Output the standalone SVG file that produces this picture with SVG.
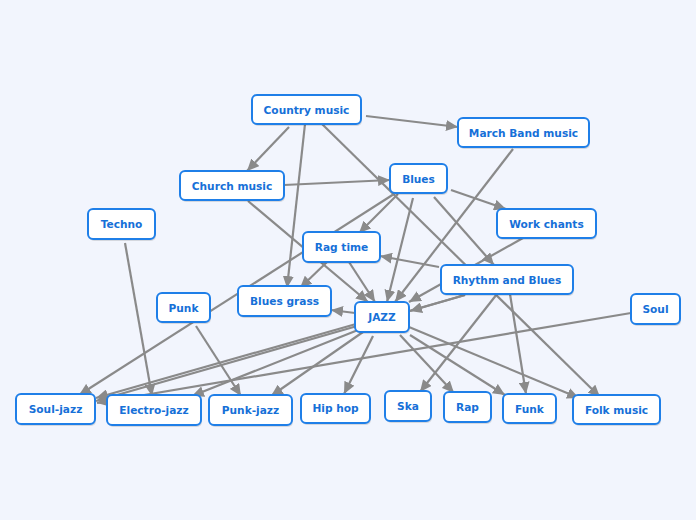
<svg xmlns="http://www.w3.org/2000/svg" width="696" height="520" viewBox="0 0 696 520">
<defs>
<marker id="ah" markerUnits="userSpaceOnUse" markerWidth="13" markerHeight="11" refX="12" refY="5.5" orient="auto">
<path d="M0,0 L12,5.5 L0,11 z" fill="#8a8a8a"/>
</marker>
<style>
.e{stroke:#8a8a8a;stroke-width:2.2;fill:none;marker-end:url(#ah)}
.b{fill:#ffffff;stroke:#1f7fe8;stroke-width:2}
.s{fill:#000;opacity:0.12}
.t{font-family:"DejaVu Sans",Verdana,sans-serif;font-weight:bold;font-size:10.6px;fill:#1670d8;text-anchor:middle}
</style>
</defs>
<rect x="0" y="0" width="696" height="520" fill="#f2f5fd"/>
<g id="connectors">
<line class="e" x1="366" y1="116" x2="458" y2="127"/>
<line class="e" x1="289" y1="127" x2="247" y2="171"/>
<line class="e" x1="305" y1="124" x2="287" y2="288"/>
<line class="e" x1="322" y1="124" x2="600" y2="397"/>
<line class="e" x1="284" y1="185" x2="390" y2="180"/>
<line class="e" x1="248" y1="201" x2="368" y2="302"/>
<line class="e" x1="451" y1="190" x2="506" y2="209"/>
<line class="e" x1="398" y1="194" x2="359" y2="233"/>
<line class="e" x1="413" y1="198" x2="387" y2="302"/>
<line class="e" x1="434" y1="197" x2="494" y2="265"/>
<line class="e" x1="394" y1="194" x2="79" y2="395"/>
<line class="e" x1="513" y1="149" x2="395" y2="302"/>
<line class="e" x1="523" y1="238" x2="409" y2="302"/>
<line class="e" x1="349" y1="262" x2="375" y2="302"/>
<line class="e" x1="327" y1="262" x2="300" y2="288"/>
<line class="e" x1="439" y1="267" x2="380" y2="256"/>
<line class="e" x1="465" y1="295" x2="410" y2="311"/>
<line class="e" x1="465" y1="295" x2="96" y2="401"/>
<line class="e" x1="497" y1="294" x2="420" y2="392"/>
<line class="e" x1="510" y1="294" x2="526" y2="394"/>
<line class="e" x1="355" y1="313" x2="331" y2="310"/>
<line class="e" x1="356" y1="324" x2="96" y2="398"/>
<line class="e" x1="358" y1="330" x2="192" y2="396"/>
<line class="e" x1="363" y1="332" x2="271" y2="396"/>
<line class="e" x1="373" y1="336" x2="344" y2="394"/>
<line class="e" x1="400" y1="335" x2="454" y2="393"/>
<line class="e" x1="410" y1="335" x2="505" y2="395"/>
<line class="e" x1="409" y1="327" x2="579" y2="398"/>
<line class="e" x1="125" y1="243" x2="152" y2="396"/>
<line class="e" x1="196" y1="326" x2="241" y2="396"/>
<line class="e" x1="631" y1="313" x2="97" y2="403"/>
</g>
<g id="country"><rect class="s" x="253" y="97" width="109" height="29" rx="5"/><rect class="b" x="252" y="95" width="109" height="29" rx="5"/><text class="t" x="306.5" y="113.5">Country music</text></g>
<g id="march"><rect class="s" x="459" y="120" width="131" height="29" rx="5"/><rect class="b" x="458" y="118" width="131" height="29" rx="5"/><text class="t" x="523.5" y="136.5">March Band music</text></g>
<g id="church"><rect class="s" x="181" y="173" width="104" height="29" rx="5"/><rect class="b" x="180" y="171" width="104" height="29" rx="5"/><text class="t" x="232" y="189.5">Church music</text></g>
<g id="blues"><rect class="s" x="391" y="166" width="57" height="29" rx="5"/><rect class="b" x="390" y="164" width="57" height="29" rx="5"/><text class="t" x="418.5" y="182.5">Blues</text></g>
<g id="workchants"><rect class="s" x="498" y="211" width="99" height="29" rx="5"/><rect class="b" x="497" y="209" width="99" height="29" rx="5"/><text class="t" x="546.5" y="227.5">Work chants</text></g>
<g id="techno"><rect class="s" x="89" y="211" width="67" height="30" rx="5"/><rect class="b" x="88" y="209" width="67" height="30" rx="5"/><text class="t" x="121.5" y="227.5">Techno</text></g>
<g id="ragtime"><rect class="s" x="304" y="234" width="77" height="30" rx="5"/><rect class="b" x="303" y="232" width="77" height="30" rx="5"/><text class="t" x="341.5" y="250.5">Rag time</text></g>
<g id="rnb"><rect class="s" x="442" y="267" width="132" height="29" rx="5"/><rect class="b" x="441" y="265" width="132" height="29" rx="5"/><text class="t" x="507" y="283.5">Rhythm and Blues</text></g>
<g id="bluesgrass"><rect class="s" x="239" y="288" width="93" height="30" rx="5"/><rect class="b" x="238" y="286" width="93" height="30" rx="5"/><text class="t" x="284.5" y="304.5">Blues grass</text></g>
<g id="punk"><rect class="s" x="158" y="295" width="53" height="29" rx="5"/><rect class="b" x="157" y="293" width="53" height="29" rx="5"/><text class="t" x="183.5" y="311.5">Punk</text></g>
<g id="jazz"><rect class="s" x="356" y="304" width="54" height="30" rx="5"/><rect class="b" x="355" y="302" width="54" height="30" rx="5"/><text class="t" x="382" y="320.5">JAZZ</text></g>
<g id="soul"><rect class="s" x="632" y="296" width="49" height="30" rx="5"/><rect class="b" x="631" y="294" width="49" height="30" rx="5"/><text class="t" x="655.5" y="312.5">Soul</text></g>
<g id="souljazz"><rect class="s" x="17" y="396" width="79" height="30" rx="5"/><rect class="b" x="16" y="394" width="79" height="30" rx="5"/><text class="t" x="55.5" y="412.5">Soul-jazz</text></g>
<g id="electrojazz"><rect class="s" x="108" y="397" width="94" height="30" rx="5"/><rect class="b" x="107" y="395" width="94" height="30" rx="5"/><text class="t" x="154" y="413.5">Electro-jazz</text></g>
<g id="punkjazz"><rect class="s" x="210" y="397" width="83" height="30" rx="5"/><rect class="b" x="209" y="395" width="83" height="30" rx="5"/><text class="t" x="250.5" y="413.5">Punk-jazz</text></g>
<g id="hiphop"><rect class="s" x="302" y="396" width="69" height="29" rx="5"/><rect class="b" x="301" y="394" width="69" height="29" rx="5"/><text class="t" x="335.5" y="412">Hip hop</text></g>
<g id="ska"><rect class="s" x="386" y="393" width="46" height="30" rx="5"/><rect class="b" x="385" y="391" width="46" height="30" rx="5"/><text class="t" x="408" y="409.5">Ska</text></g>
<g id="rap"><rect class="s" x="445" y="394" width="47" height="30" rx="5"/><rect class="b" x="444" y="392" width="47" height="30" rx="5"/><text class="t" x="467.5" y="410.5">Rap</text></g>
<g id="funk"><rect class="s" x="504" y="396" width="53" height="29" rx="5"/><rect class="b" x="503" y="394" width="53" height="29" rx="5"/><text class="t" x="529.5" y="412.5">Funk</text></g>
<g id="folk"><rect class="s" x="574" y="397" width="87" height="29" rx="5"/><rect class="b" x="573" y="395" width="87" height="29" rx="5"/><text class="t" x="616.5" y="413.5">Folk music</text></g>
</svg>
